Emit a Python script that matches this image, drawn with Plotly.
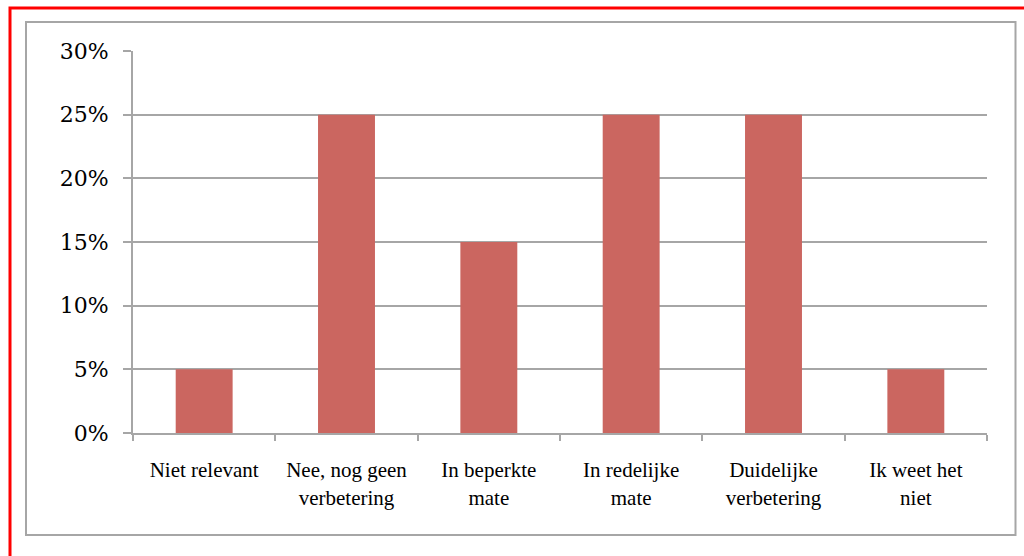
import plotly.graph_objects as go

categories = ["Niet relevant", "Nee, nog geen<br>verbetering", "In beperkte<br>mate",
              "In redelijke<br>mate", "Duidelijke<br>verbetering", "Ik weet het<br>niet"]
values = [0.05, 0.25, 0.15, 0.25, 0.25, 0.05]

W, H = 1024, 556
L, R, T, B = 133, 37, 51, 123
pw, ph = W - L - R, H - T - B

def px_x(x):
    return (x - L) / pw

def px_y(y):
    return (H - B - y) / ph

fig = go.Figure(go.Bar(x=categories, y=values, marker=dict(color="#CB6660", line=dict(width=0)),
                       width=0.4))

fig.update_layout(
    width=W, height=H,
    margin=dict(l=L, r=R, t=T, b=B),
    paper_bgcolor="white", plot_bgcolor="white",
    showlegend=False,
    bargap=0.6,
    shapes=[
        dict(type="rect", xref="paper", yref="paper",
             x0=px_x(26), x1=px_x(1015.5), y0=px_y(535), y1=px_y(22),
             line=dict(color="#A6A6A6", width=2), layer="below"),
        dict(type="rect", xref="paper", yref="paper",
             x0=px_x(10), x1=px_x(1030), y0=px_y(560), y1=px_y(8),
             line=dict(color="#FF0000", width=3), layer="below"),
    ],
)

fig.update_yaxes(
    range=[0, 0.3], dtick=0.05, tickformat=".0%",
    showgrid=True, gridcolor="#A6A6A6", gridwidth=2,
    showline=True, linecolor="#A6A6A6", linewidth=2,
    ticks="outside", ticklen=8, tickcolor="#A6A6A6", tickwidth=2,
    ticklabelstandoff=10,
    tickfont=dict(family="DejaVu Serif, Liberation Serif, serif", size=22, color="black"),
    zeroline=False,
)
fig.update_xaxes(
    showline=True, linecolor="#A6A6A6", linewidth=2,
    ticks="outside", ticklen=6, tickcolor="#A6A6A6", tickwidth=2,
    tickson="boundaries",
    ticklabelstandoff=17,
    tickfont=dict(family="Liberation Serif, serif", size=21, color="black"),
    tickangle=0,
)

fig.write_html("out.html", config={"displayModeBar": False},
               post_script="document.body.style.margin='0';")
